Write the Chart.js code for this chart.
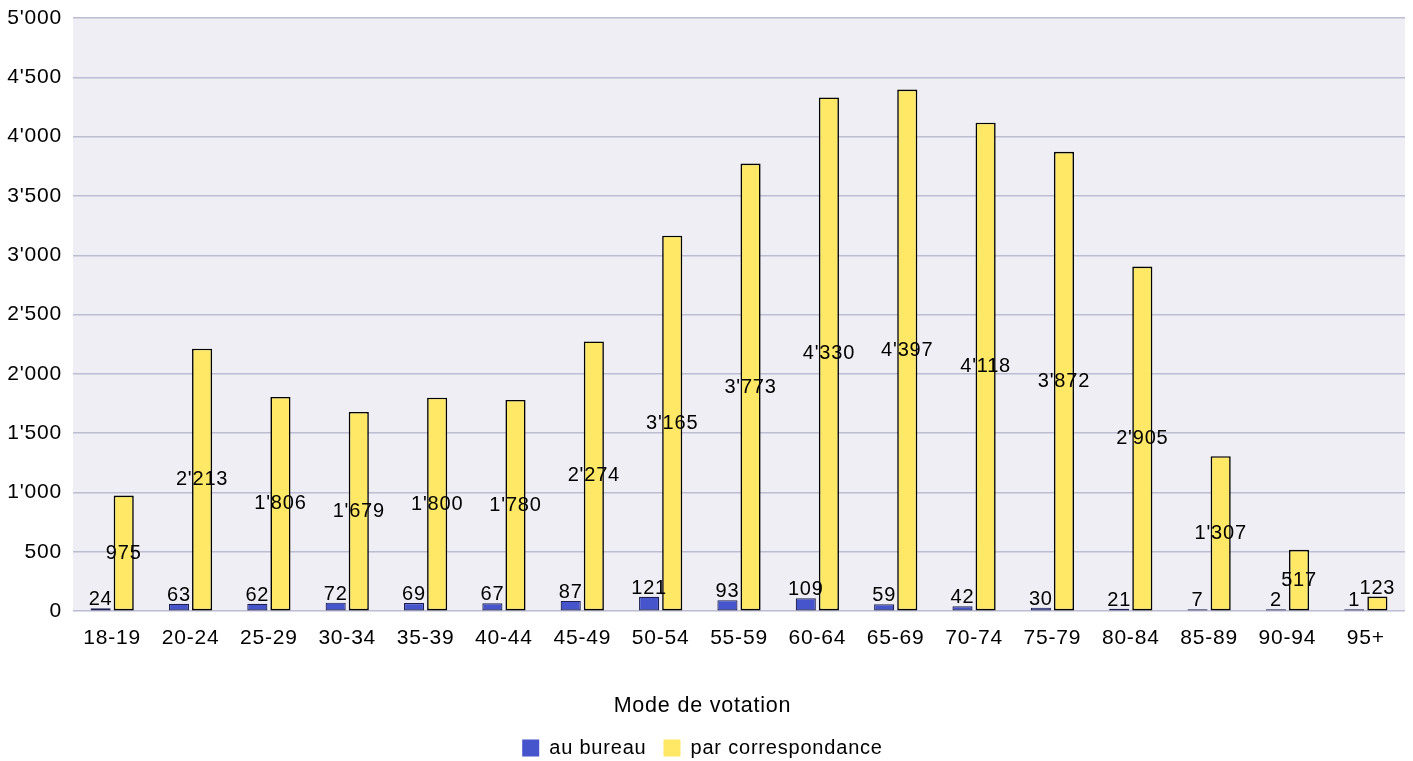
<!DOCTYPE html>
<html>
<head>
<meta charset="utf-8">
<script src="https://cdn.jsdelivr.net/npm/chart.js@4/dist/chart.umd.min.js"></script>
<style>
  html, body { margin: 0; padding: 0; background: #fff; }
  #wrap { width: 1413px; height: 761px; }
</style>
</head>
<body>
<div id="wrap"><canvas id="myChart-bar"></canvas></div>
<script>
var ageGroups = ['18-19', '20-24', '25-29', '30-34', '35-39', '40-44', '45-49', '50-54', '55-59',
    '60-64', '65-69', '70-74', '75-79', '80-84', '85-89', '90-94', '95+'];
var auBureau = [24, 63, 62, 72, 69, 67, 87, 121, 93, 109, 59, 42, 30, 21, 7, 2, 1];
var parCorrespondance = [975, 2213, 1806, 1679, 1800, 1780, 2274, 3165, 3773, 4330, 4397, 4118, 3872, 2905, 1307, 517, 123];
var yTicks = [0, 500, 1000, 1500, 2000, 2500, 3000, 3500, 4000, 4500, 5000];

var FONT = "'Liberation Sans', Arial, sans-serif";
var SPACING = '0.8px';

function fmt(v) {
    return String(v).replace(/\B(?=(\d{3})+(?!\d))/g, "'");
}

// the text in the original is a bit spread out
var spacing = {
    id: 'spacing',
    beforeUpdate: function (chart) { chart.ctx.letterSpacing = SPACING; },
    beforeDraw: function (chart) { chart.ctx.letterSpacing = SPACING; }
};

// grey plot background
var plotBg = {
    id: 'plotBg',
    beforeDraw: function (chart) {
        var a = chart.chartArea, c = chart.ctx;
        c.save();
        c.fillStyle = '#EFEEF4';
        c.fillRect(a.left, a.top, a.right - a.left, a.bottom - a.top);
        c.restore();
    }
};

// value labels: centered in the bar if it fits, otherwise just above
var valueLabels = {
    id: 'valueLabels',
    afterDatasetsDraw: function (chart) {
        var c = chart.ctx;
        c.save();
        c.font = '20px ' + FONT;
        c.fillStyle = '#000';
        c.textAlign = 'center';
        chart.data.datasets.forEach(function (ds, i) {
            chart.getDatasetMeta(i).data.forEach(function (bar, j) {
                var h = bar.base - bar.y;
                var txt = fmt(ds.data[j]);
                if (h > 26) {
                    c.textBaseline = 'middle';
                    c.fillText(txt, bar.x, (bar.y + bar.base) / 2);
                } else {
                    c.textBaseline = 'alphabetic';
                    c.fillText(txt, bar.x, bar.y - 3);
                }
            });
        });
        c.restore();
    }
};

var ctx = document.getElementById('myChart-bar');

new Chart(ctx, {
    type: 'bar',
    data: {
        labels: ageGroups,
        datasets: [
            {
                label: 'au bureau',
                data: auBureau,
                backgroundColor: '#4655CC',
                borderColor: '#1E2050',
                borderWidth: 1.2,
                borderSkipped: false,
                minBarLength: 2
            },
            {
                label: 'par correspondance',
                data: parCorrespondance,
                backgroundColor: '#FFE866',
                borderColor: '#000',
                borderWidth: 1.6,
                borderSkipped: false
            }
        ]
    },
    options: {
        responsive: true,
        maintainAspectRatio: false,
        animation: false,
        layout: { padding: { top: 18, right: 8, left: 0, bottom: -7 } },
        datasets: {
            bar: { categoryPercentage: 0.59, barPercentage: 0.87 }
        },
        scales: {
            x: {
                grid: { display: false },
                border: { display: false },
                ticks: { color: '#000', font: { family: FONT, size: 21 }, padding: 6, maxRotation: 0 },
                afterFit: function (s) { s.height = 84; }
            },
            y: {
                min: 0,
                max: 5000,
                afterBuildTicks: function (s) { s.ticks = yTicks.map(function (v) { return { value: v }; }); },
                grid: { color: '#BCBCD3', lineWidth: 1.5, drawTicks: false },
                border: { display: false },
                ticks: {
                    color: '#000',
                    font: { family: FONT, size: 21 },
                    padding: 11,
                    callback: function (v) { return fmt(v); }
                },
                afterFit: function (s) {
                    s.width = 73;
                    s.paddingTop = 0;
                    s.paddingBottom = 0;
                }
            }
        },
        plugins: {
            tooltip: { enabled: false },
            legend: {
                position: 'bottom',
                title: {
                    display: true,
                    text: 'Mode de votation',
                    color: '#000',
                    font: { family: FONT, size: 21.5 },
                    padding: { top: 0, bottom: 0 }
                },
                labels: {
                    color: '#000',
                    font: { family: FONT, size: 20 },
                    boxWidth: 17,
                    boxHeight: 17,
                    padding: 17,
                    generateLabels: function (chart) {
                        return Chart.defaults.plugins.legend.labels.generateLabels(chart).map(function (l) {
                            l.strokeStyle = l.fillStyle;
                            l.lineWidth = 0;
                            return l;
                        });
                    }
                }
            }
        }
    },
    plugins: [spacing, plotBg, valueLabels]
});
</script>
</body>
</html>
